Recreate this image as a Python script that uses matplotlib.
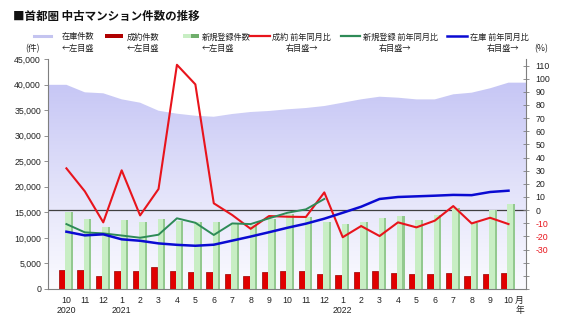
import numpy as np
import matplotlib
matplotlib.use("Agg")
import matplotlib.pyplot as plt
from matplotlib.colors import LinearSegmentedColormap
from matplotlib.lines import Line2D
from matplotlib.patches import Rectangle

plt.rcParams["font.family"] = ["Liberation Sans", "Noto Sans CJK JP"]
JP = ["Noto Sans CJK JP", "DejaVu Sans"]

# 2020/10 - 2022/10
months = ["10", "11", "12", "1", "2", "3", "4", "5", "6", "7", "8", "9",
          "10", "11", "12", "1", "2", "3", "4", "5", "6", "7", "8", "9", "10"]
years = ["2020", "", "", "2021", "", "", "", "", "", "", "", "",
         "", "", "", "2022", "", "", "", "", "", "", "", "", ""]

# left scale (件)
inventory = [39950, 38480, 38290, 37110, 36450, 34880, 34300, 33900, 33700, 34240,
             34630, 34830, 35160, 35410, 35800, 36450, 37110, 37620, 37430, 37100,
             37100, 38090, 38410, 39270, 40370]
contracts = [3720, 3720, 2540, 3460, 3590, 4240, 3460, 3390, 3390, 3000, 2540, 3260,
             3460, 3460, 2930, 2800, 3260, 3520, 3130, 2870, 3000, 3130, 2480, 3000, 3130]
new_listings = [15120, 13700, 12190, 13500, 13170, 13630, 13370, 13040, 13040, 12850,
                12520, 13630, 14670, 14020, 13170, 12720, 13040, 13830, 14300, 13500,
                14400, 15900, 12850, 15460, 16630]

# right scale (%), year-on-year
contracts_yoy = [31.8, 14.3, -9.3, 30.3, -4.0, 16.1, 110.6, 95.7, 5.2, -3.7, -14.2, -4.5,
                 -5.0, -5.2, 13.5, -20.6, -12.1, -19.7, -9.3, -13.1, -8.0, 3.1, -10.1,
                 -5.8, -10.6]
new_listings_yoy = [-10.6, -16.9, -17.7, -19.3, -21.0, -18.7, -6.2, -9.6, -18.9, -10.1,
                    -10.6, -6.2, -2.0, 0.6, 8.5] + [np.nan] * 10
inventory_yoy = [-16.4, -19.2, -18.4, -22.2, -23.3, -25.3, -26.4, -27.1, -26.3, -23.2,
                 -20.1, -16.8, -13.4, -10.3, -6.5, -2.0, 2.6, 8.5, 10.0, 10.5, 11.0,
                 11.6, 11.4, 13.8, 14.8]

LEFT_LIM = (0, 45000)
RIGHT_LIM = (-60, 115)
RED = "#e8141c"
GREEN = "#2e8b57"
BLUE = "#0a0ad2"
AXIS_GRAY = "#7f7f7f"

W, H = 567, 323


def fx(px):
    return px / W


def fy(py):
    return 1 - py / H


fig = plt.figure(figsize=(W / 100, H / 100), dpi=100)
ax = fig.add_axes([fx(48), fy(289), (526 - 48) / W, (289 - 59) / H])
ax2 = ax.twinx()

x = np.arange(len(months))
xlim = (-1.0, len(months) - 0.05)

# inventory area with a vertical gradient fill
area_x = np.concatenate([[xlim[0]], x, [xlim[1]]])
area_y = np.concatenate([[inventory[0]], inventory, [inventory[-1]]])
poly = ax.fill_between(area_x, area_y, 0, facecolor="none", edgecolor="none")
cmap = LinearSegmentedColormap.from_list("inv", ["#fbfbff", "#e2e2fa", "#c6c6f5"])
grad = np.linspace(0, 1, 256).reshape(-1, 1)
im = ax.imshow(grad, extent=[xlim[0], xlim[1], 0, max(inventory)], origin="lower",
               aspect="auto", cmap=cmap, zorder=0)
im.set_clip_path(poly.get_paths()[0], transform=ax.transData)

# 0% reference line of the right scale, drawn behind the bars
zero_left = (0 - RIGHT_LIM[0]) / (RIGHT_LIM[1] - RIGHT_LIM[0]) * (LEFT_LIM[1] - LEFT_LIM[0])
ax.axhline(zero_left, color="#404040", lw=0.9, zorder=1)

# bars
ax.bar(x - 0.23, contracts, width=0.34, color="#e00000", edgecolor="#9a0000",
       linewidth=0.5, zorder=2)
ax.bar(x + 0.15, new_listings, width=0.41, color="#c8eec4", linewidth=0, zorder=2)
ax.bar(x + 0.30, new_listings, width=0.11, color="#93c98f", linewidth=0, zorder=2)

# year-on-year lines
ax2.plot(x, contracts_yoy, color=RED, lw=1.5, zorder=3)
ax2.plot(x, new_listings_yoy, color=GREEN, lw=1.4, zorder=3)
ax2.plot(x, inventory_yoy, color=BLUE, lw=1.8, zorder=4)

ax.set_xlim(xlim)
ax.set_ylim(LEFT_LIM)
ax2.set_ylim(RIGHT_LIM)

ax.set_yticks(np.arange(0, 45001, 5000))
ax.set_yticklabels([f"{v:,}" for v in range(0, 45001, 5000)])
ax.set_xticks(x)
ax.set_xticklabels([m + ("\n" + y if y else "") for m, y in zip(months, years)],
                   linespacing=1.15)

right_ticks = np.arange(-60, 111, 10)
ax2.set_yticks(right_ticks)
ax2.set_yticklabels([str(v) if v >= -30 else "" for v in right_ticks])
for lab, v in zip(ax2.get_yticklabels(), right_ticks):
    lab.set_color(RED if v < 0 else "#222222")

ax.tick_params(axis="y", direction="out", length=3, width=0.6, color=AXIS_GRAY,
               labelsize=6.3, pad=2, labelcolor="#222222")
ax.tick_params(axis="x", length=0, pad=5, labelsize=6.3, labelcolor="#222222")
ax2.tick_params(axis="y", direction="inout", length=4, width=0.6, color=AXIS_GRAY,
                labelsize=6.3, pad=5)

for a in (ax, ax2):
    a.spines["top"].set_visible(False)
    for s in a.spines.values():
        s.set_color(AXIS_GRAY)
        s.set_linewidth(0.8)
ax.spines["right"].set_visible(False)
ax2.spines["left"].set_visible(False)
ax2.spines["bottom"].set_visible(False)

fig.text(fx(519.5), fy(300), "月", family=JP, fontsize=6.3, ha="center", va="center",
         color="#222222")
fig.text(fx(519.5), fy(311), "年", family=JP, fontsize=6.3, ha="center", va="center",
         color="#222222")

# title
fig.text(fx(13), fy(16), "■首都圏 中古マンション件数の推移", family=JP, fontsize=8.3,
         fontweight="bold", ha="left", va="center", color="#111111")

# legend, laid out by hand in two rows
y1, y2 = fy(37), fy(49)
fig.add_artist(Line2D([fx(34), fx(51)], [fy(36), fy(36)], color="#c4c4f0", lw=2.2))
fig.add_artist(Rectangle((fx(105), fy(38)), fx(18), 4 / H, color="#b00000", lw=0))
fig.add_artist(Rectangle((fx(183), fy(38)), fx(8), 4 / H, color="#c8eec4", lw=0))
fig.add_artist(Rectangle((fx(191), fy(38)), fx(8), 4 / H, color="#6fae6b", lw=0))
fig.add_artist(Line2D([fx(250), fx(270)], [fy(36), fy(36)], color=RED, lw=1.6))
fig.add_artist(Line2D([fx(341), fx(360)], [fy(36), fy(36)], color=GREEN, lw=1.6))
fig.add_artist(Line2D([fx(447), fx(467)], [fy(36), fy(36)], color=BLUE, lw=1.8))

legend_rows = [
    (62, "在庫件数", 62, "←左目盛"),
    (127, "成約件数", 127, "←左目盛"),
    (202, "新規登録件数", 202, "←左目盛"),
    (272, "成約 前年同月比", 286, "右目盛→"),
    (363, "新規登録 前年同月比", 379, "右目盛→"),
    (470, "在庫 前年同月比", 487, "右目盛→"),
]
for px1, txt1, px2, txt2 in legend_rows:
    fig.text(fx(px1), y1, txt1, family=JP, fontsize=5.9, ha="left", va="center",
             color="#222222")
    fig.text(fx(px2), y2, txt2, family=JP, fontsize=5.9, ha="left", va="center",
             color="#222222")

fig.text(fx(32), y2, "(件)", family=JP, fontsize=6.3, ha="center", va="center",
         color="#222222")
fig.text(fx(541), y2, "(%)", family=JP, fontsize=6.3, ha="center", va="center",
         color="#222222")

fig.savefig("out.png", dpi=100, facecolor="white")
